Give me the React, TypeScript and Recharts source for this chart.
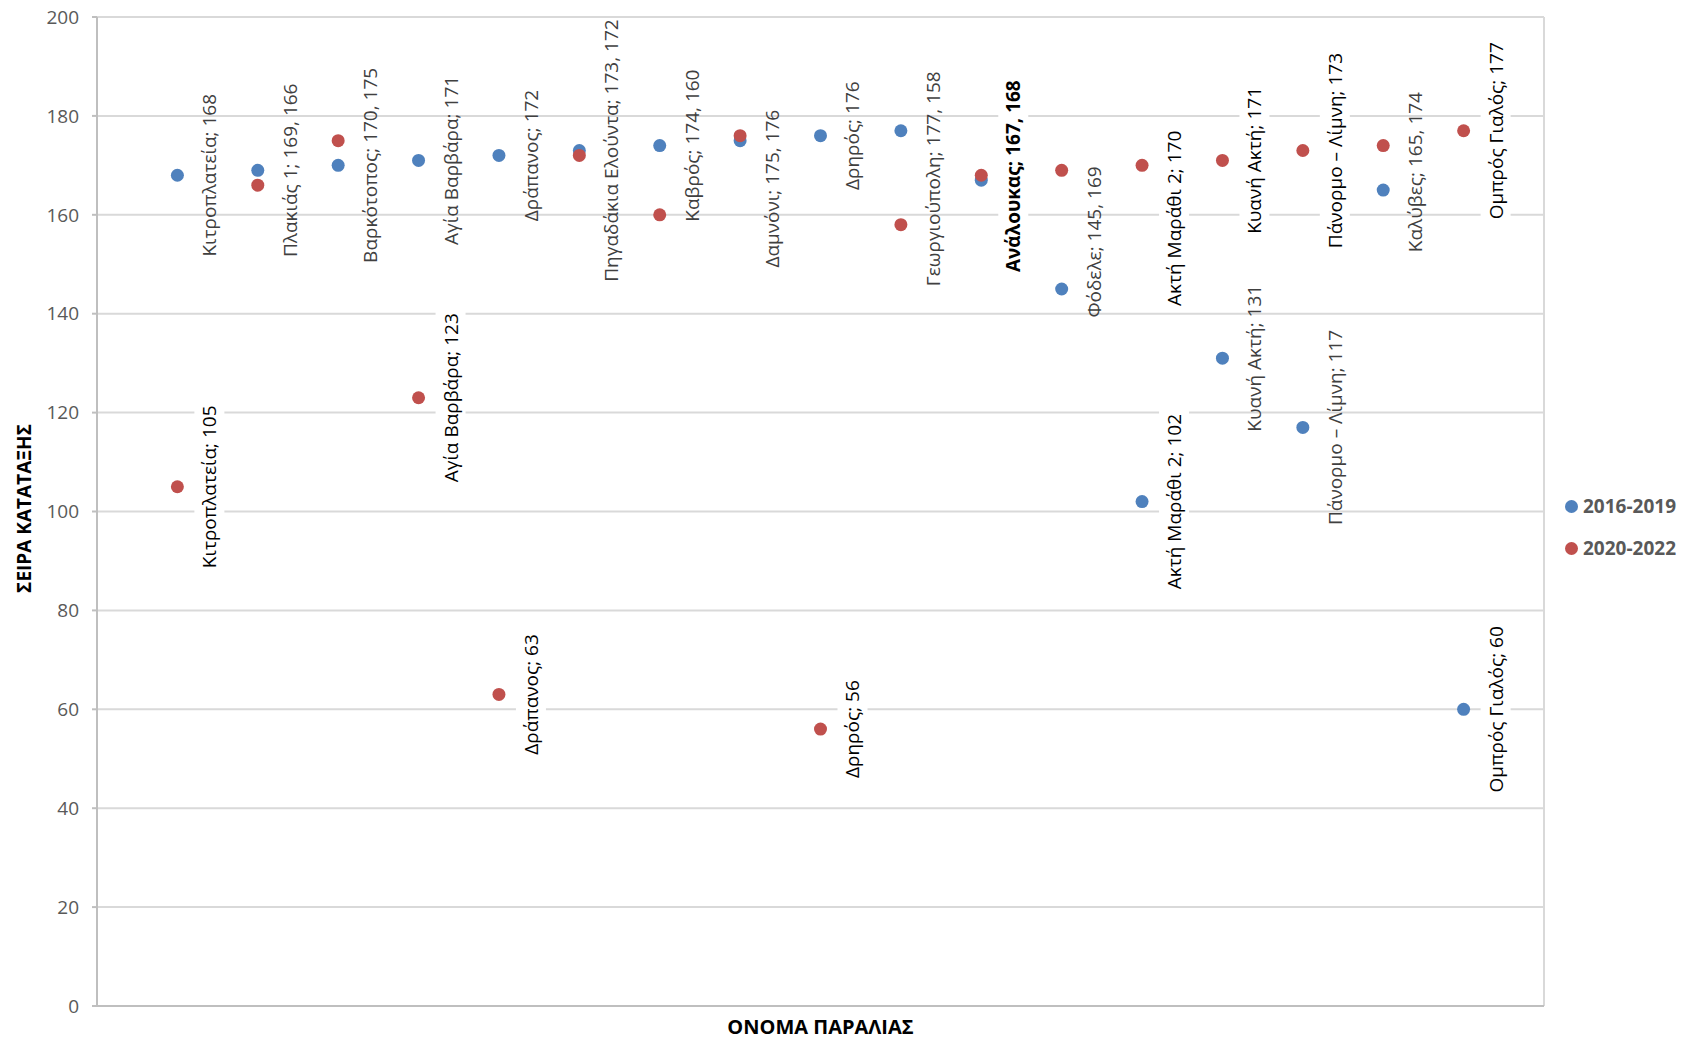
import { ScatterChart, Scatter, XAxis, YAxis, CartesianGrid } from "recharts";

const beaches = [
  "Κιτροπλατεία",
  "Πλακιάς 1",
  "Βαρκότοπος",
  "Αγία Βαρβάρα",
  "Δράπανος",
  "Πηγαδάκια Ελούντα",
  "Καβρός",
  "Δαμνόνι",
  "Δρηρός",
  "Γεωργιούπολη",
  "Ανάλουκας",
  "Φόδελε",
  "Ακτή Μαράθι 2",
  "Κυανή Ακτή",
  "Πάνορμο – Λίμνη",
  "Καλύβες",
  "Ομπρός Γιαλός",
];
const rank2016 = [168, 169, 170, 171, 172, 173, 174, 175, 176, 177, 167, 145, 102, 131, 117, 165, 60];
const rank2020 = [105, 166, 175, 123, 63, 172, 160, 176, 56, 158, 168, 169, 170, 171, 173, 174, 177];
// where the two dots sit close, one label on the 2016-2019 dot carries both values
const sharedLabel = [false, true, true, false, false, true, true, true, false, true, true, true, false, false, false, true, false];
const xTicks = [0, 2, 4, 6, 8, 10, 12, 14, 16, 18];
const yTicks = [0, 20, 40, 60, 80, 100, 120, 140, 160, 180, 200];

// label layout (pixel nudges, black labels on white boxes)
const blueNudge: Record<number, number> = { 7: 48, 9: 48, 10: -4, 11: -47, 15: -18 };
const redNudge: Record<number, number> = { 12: 53 };
const blueDark = [10, 12, 16];
const blueBold = [10];

const BLUE = "#4F81BD";
const RED = "#C0504D";
const FONT = "'Open Sans', sans-serif";

const data2016 = beaches.map((name, i) => ({ x: i + 1, y: rank2016[i], name }));
const data2020 = beaches.map((name, i) => ({ x: i + 1, y: rank2020[i], name }));

const labels = [
  ...beaches.map((name, i) => ({
    x: i + 1,
    y: rank2016[i],
    text: sharedLabel[i] ? `${name}; ${rank2016[i]}, ${rank2020[i]}` : `${name}; ${rank2016[i]}`,
    dy: blueNudge[i] ?? 0,
    dark: blueDark.includes(i),
    bold: blueBold.includes(i),
  })),
  ...beaches
    .map((name, i) => ({
      x: i + 1,
      y: rank2020[i],
      text: `${name}; ${rank2020[i]}`,
      dy: redNudge[i] ?? 0,
      dark: true,
      bold: false,
      skip: sharedLabel[i],
    }))
    .filter((d) => !d.skip),
];

function Dot(props: any) {
  const { cx, cy, fill } = props;
  return <circle cx={cx} cy={cy} r={6.5} fill={fill} />;
}

function DataLabel(props: any) {
  const { cx, cy, payload } = props;
  const fs = 19;
  const x = cx + 32;
  const y = cy + payload.dy;
  const len = payload.text.length * fs * 0.5;
  return (
    <g>
      {payload.dark && <rect x={x - 15} y={y - len / 2 - 6} width={30} height={len + 12} fill="#fff" />}
      <text
        x={x}
        y={y}
        transform={`rotate(-90 ${x} ${y})`}
        textAnchor="middle"
        dominantBaseline="central"
        fontFamily={FONT}
        fontSize={fs}
        fontWeight={payload.bold ? 700 : 400}
        fill={payload.dark ? "#000" : "#404040"}
      >
        {payload.text}
      </text>
    </g>
  );
}

function LegendBox() {
  const items = [
    { name: "2016-2019", color: BLUE },
    { name: "2020-2022", color: RED },
  ];
  return (
    <div style={{ position: "absolute", left: 1565, top: 485, fontFamily: FONT }}>
      {items.map((it) => (
        <div key={it.name} style={{ display: "flex", alignItems: "center", height: 42 }}>
          <span style={{ width: 13, height: 13, borderRadius: "50%", background: it.color, marginRight: 5 }} />
          <span style={{ fontSize: 19, fontWeight: 700, color: "#595959" }}>{it.name}</span>
        </div>
      ))}
    </div>
  );
}

export default function App() {
  return (
    <div style={{ position: "absolute", left: 0, top: 0, width: 1693, height: 1039, background: "#fff" }}>
      <ScatterChart width={1693} height={1039} margin={{ top: 17, right: 149, bottom: 0, left: 0 }}>
        <CartesianGrid stroke="#d9d9d9" strokeWidth={2} />
        <XAxis
          type="number"
          dataKey="x"
          domain={[0, 18]}
          ticks={xTicks}
          tick={false}
          tickLine={false}
          height={33}
          axisLine={{ stroke: "#bfbfbf", strokeWidth: 2 }}
          label={(p: any) => {
            const vb = p.viewBox;
            return (
              <text
                x={vb.x + vb.width / 2}
                y={vb.y + 28}
                textAnchor="middle"
                fontFamily={FONT}
                fontSize={20}
                fontWeight={700}
                fill="#000"
              >
                ΟΝΟΜΑ ΠΑΡΑΛΙΑΣ
              </text>
            );
          }}
        />
        <YAxis
          type="number"
          dataKey="y"
          domain={[0, 200]}
          ticks={yTicks}
          width={97}
          tickSize={5}
          tickMargin={13}
          tickLine={{ stroke: "#bfbfbf", strokeWidth: 2 }}
          axisLine={{ stroke: "#bfbfbf", strokeWidth: 2 }}
          tick={{ fill: "#595959", fontSize: 19, fontFamily: FONT }}
          label={(p: any) => {
            const vb = p.viewBox;
            const cx = 24;
            const cy = vb.y + vb.height / 2 - 3;
            return (
              <text
                x={cx}
                y={cy}
                transform={`rotate(-90 ${cx} ${cy})`}
                textAnchor="middle"
                dominantBaseline="central"
                fontFamily={FONT}
                fontSize={19}
                fontWeight={700}
                fill="#000"
              >
                ΣΕΙΡΑ ΚΑΤΑΤΑΞΗΣ
              </text>
            );
          }}
        />
        <Scatter name="2016-2019" data={data2016} fill={BLUE} shape={Dot} isAnimationActive={false} />
        <Scatter name="2020-2022" data={data2020} fill={RED} shape={Dot} isAnimationActive={false} />
        <Scatter name="labels" data={labels} shape={DataLabel} legendType="none" isAnimationActive={false} />
      </ScatterChart>
      <LegendBox />
    </div>
  );
}
